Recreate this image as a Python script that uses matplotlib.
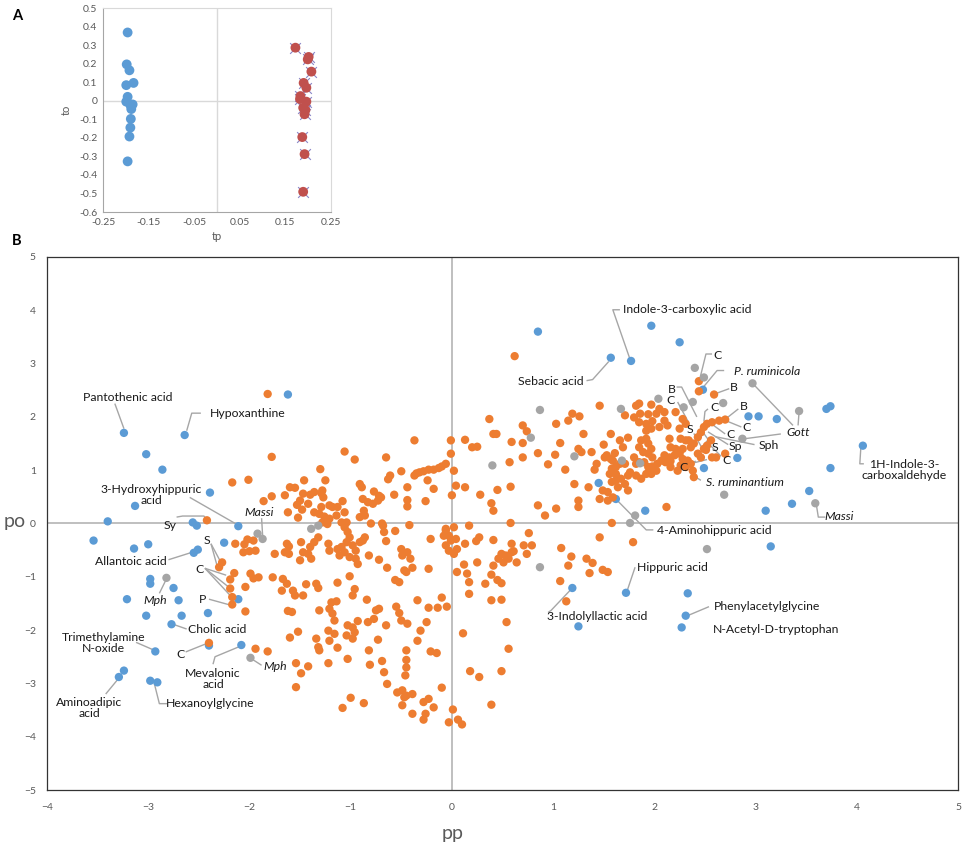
import matplotlib
matplotlib.use("Agg")
import matplotlib.pyplot as plt
import numpy as np

plt.rcParams['font.family'] = ['Lato', 'DejaVu Sans']

# ---------------- Panel A data (tp, to) ----------------
a_blue_tp = [-0.196, -0.198, -0.192, -0.183, -0.199, -0.196, -0.199, -0.190, -0.185, -0.188, -0.189, -0.190, -0.192, -0.196]
a_blue_to = [0.368, 0.196, 0.164, 0.096, 0.084, 0.021, -0.005, -0.023, -0.020, -0.045, -0.098, -0.145, -0.193, -0.327]
a_red_tp = [0.172, 0.201, 0.199, 0.207, 0.190, 0.196, 0.183, 0.182, 0.196, 0.189, 0.194, 0.192, 0.187, 0.192, 0.189]
a_red_to = [0.286, 0.236, 0.223, 0.157, 0.096, 0.070, 0.025, 0.009, -0.005, -0.038, -0.050, -0.073, -0.196, -0.288, -0.491]
a_xticks = [-0.25, -0.15, -0.05, 0.05, 0.15, 0.25]
a_yticks = [0.5, 0.4, 0.3, 0.2, 0.1, 0, -0.1, -0.2, -0.3, -0.4, -0.5, -0.6]

# ---------------- Panel B data (pp, po) ----------------
orange_pts = [
(-1.82,2.43),(-0.37,1.56),(-1.78,1.25),(-1.06,1.35),(-0.96,1.20),(-0.65,1.24),(-1.30,1.02),(-0.50,0.98),(-0.35,0.94),(-0.61,0.90),
(-0.37,0.90),(-0.32,0.96),(-0.28,0.98),(-0.23,1.01),(-0.18,1.01),(-0.13,1.04),(-0.10,1.07),(-0.06,1.12),(0.02,0.99),
(-0.01,1.56),(-0.01,1.31),(0.13,1.57),(0.20,1.43),(0.25,1.44),(0.37,1.96),(0.41,1.68),(0.44,1.68),
(-0.63,0.83),(-2.17,0.77),(-2.01,0.82),(-1.46,0.81),(-1.25,0.81),(-0.91,0.74),(-0.89,0.68),(-1.36,0.59),(-1.28,0.62),(-0.77,0.60),(-0.72,0.52),(-0.44,0.68),(-0.57,0.54),(-0.44,0.44),(-0.44,0.32),
(-1.60,0.68),(-1.55,0.67),(-1.78,0.51),(-1.86,0.42),(-1.65,0.53),(-1.47,0.56),(-1.40,0.54),(-1.29,0.57),(-1.27,0.49),(-1.50,0.43),(-1.42,0.37),(-1.21,0.34),(-1.18,0.31),(-1.13,0.31),(-1.08,0.42),(-0.88,0.46),(-0.83,0.40),(-0.78,0.37),(-0.73,0.43),(-0.70,0.49),(-0.26,0.42),(-0.18,0.65),(0.04,0.71),(0.00,0.53),(0.13,0.68),
(-0.24,0.81),(0.28,0.54),(0.45,0.63),(0.39,0.38),(0.41,0.24),
(-1.62,0.21),(-1.52,0.11),(-1.36,0.21),(-1.31,0.18),(-1.29,0.31),(-1.26,0.13),(-1.21,0.09),(-1.14,0.15),(-1.09,0.02),(-1.04,0.02),(-1.06,-0.07),(-1.03,-0.16),(-1.01,-0.26),(-1.04,-0.35),(-1.09,-0.44),(-1.06,-0.54),(-1.01,-0.63),(-0.95,-0.51),(-0.98,-0.41),(-0.91,-0.35),(-0.88,-0.32),(-0.95,-0.66),(-0.93,-0.76),(-1.11,-0.60),(-1.13,-0.48),(-1.22,-0.38),(-1.21,-0.51),(-1.32,-0.26),(-1.36,-0.35),(-1.40,-0.44),(-1.42,-0.57),(-1.39,-0.66),(-1.47,-0.54),(-1.50,-0.69),(-1.63,-0.38),(-1.65,-0.54),(-1.49,-0.35),(-1.75,-0.57),(-1.94,-0.51),(-1.96,-0.32),
(-1.28,0.02),(-1.23,-0.01),(-1.06,0.21),(-1.53,0.35),(-1.48,0.26),
(-0.91,0.12),(-0.86,0.15),(-0.80,0.0),(-0.87,0.24),(-0.86,-0.26),(-0.82,-0.60),(-0.68,-0.04),(-0.67,-0.16),(-0.56,-0.14),(-0.65,-0.33),(-0.50,-0.48),(-0.44,-0.54),(-0.49,-0.60),(-0.41,-0.66),(-0.72,-0.68),(-0.64,-0.83),(-0.47,-0.88),(-0.39,-0.83),(-0.21,-0.29),(-0.23,-0.85),(-0.42,-0.03),(-0.69,0.0),
(-0.06,-0.13),(-0.03,-0.23),(-0.01,-0.32),(-0.06,-0.41),(-0.03,-0.51),(0.02,-0.57),(0.05,-0.48),(0.04,-0.29),(0.05,-0.91),(0.15,-0.94),(-0.06,-0.10),(0.02,-0.07),(-0.08,-0.23),(0.13,-0.38),(0.27,-0.26),(0.24,-0.33),(0.41,-0.31),(0.49,-0.57),(0.46,-0.66),(0.17,-0.04),
(0.12,-0.77),(0.25,-0.73),
(-2.42,0.06),(-2.14,-0.38),(-2.05,-0.39),(-2.02,-0.30),(-2.00,-0.52),(-1.61,-0.43),(-1.61,-0.57),(-2.27,-0.73),(-2.30,-0.82),(-2.06,-0.54),(-0.45,-0.91),(-0.52,-1.10),
(-2.15,-0.93),(-2.19,-1.05),(-1.99,-0.94),(-1.96,-1.03),(-1.91,-1.01),(-2.04,-1.19),(-2.19,-1.22),(-2.17,-1.38),(-2.17,-1.52),(-2.04,-1.65),(-1.94,-2.35),(-1.82,-2.40),(-2.40,-2.24),
(-1.77,-1.01),(-1.67,-1.04),(-1.63,-1.13),(-1.68,-1.26),(-1.57,-1.26),(-1.55,-1.35),(-1.47,-1.35),(-1.44,-1.14),(-1.34,-1.13),(-1.32,-1.21),(-1.13,-1.11),(-1.01,-0.99),(-0.96,-1.23),(-0.98,-1.35),(-0.84,-1.43),(-1.19,-1.48),(-1.14,-1.46),(-1.21,-1.60),(-1.18,-1.69),(-1.16,-1.82),(-1.31,-1.63),(-1.62,-1.64),(-1.58,-1.66),(-1.52,-2.03),(-1.60,-2.14),(-1.34,-2.16),(-1.22,-2.01),(-1.16,-2.07),(-1.21,-2.20),(-1.32,-2.32),(-1.31,-2.38),(-1.13,-2.33),(-1.03,-1.91),(-0.98,-1.95),(-1.04,-2.10),(-0.96,-2.04),(-0.98,-2.16),(-0.93,-1.83),(-0.83,-1.85),(-0.77,-1.79),(-0.75,-1.63),(-0.72,-1.60),(-0.65,-1.91),(-0.73,-2.18),(-0.82,-2.38),(-1.03,-2.54),(-1.22,-2.62),(-1.54,-2.62),(-1.42,-2.68),(-1.49,-2.81),(-1.54,-3.07),(-0.81,-2.65),(-0.69,-2.58),(-0.67,-2.79),(-0.64,-3.01),(-1.00,-3.27),(-1.08,-3.46),(-0.87,-3.37),(-0.54,-3.17),(-0.49,-3.13),(-0.45,-3.23),(-0.39,-3.20),(-0.49,-3.41),(-0.39,-3.57),(-0.55,-1.56),(-0.52,-1.68),(-0.50,-1.82),(-0.44,-1.88),(-0.45,-2.38),(-0.45,-2.56),(-0.45,-2.70),(-0.46,-2.85),(-0.34,-1.44),(-0.34,-2.20),
(-0.56,-1.06),(-0.10,-1.39),(-0.05,-1.56),(-0.14,-1.58),(-0.23,-1.58),(-0.25,-1.85),(-0.31,-2.01),(-0.21,-2.40),(-0.15,-2.43),(-0.10,-3.08),(-0.47,-3.26),(-0.28,-3.35),(-0.23,-3.29),(-0.18,-3.45),(-0.26,-3.57),(-0.28,-3.68),
(0.17,-1.10),(0.17,-1.32),(0.33,-1.13),(0.39,-0.96),(0.45,-1.06),(0.49,-1.12),(0.41,-0.79),(0.53,-0.60),(0.51,-0.73),(0.56,-0.66),(0.64,-0.73),(0.59,-0.54),(0.74,-0.57),(0.39,-1.44),(0.49,-1.43),(0.54,-1.85),(0.56,-2.35),(0.11,-2.06),(0.18,-2.77),(0.27,-2.88),(0.49,-2.77),(0.39,-3.40),(0.01,-3.49),(-0.03,-3.73),(0.06,-3.68),(0.10,-3.77),
(0.62,3.14),(0.58,0.69),(0.70,1.84),(0.74,1.73),(1.46,2.21),(1.19,2.06),(1.26,2.01),(1.15,1.93),(1.03,1.87),(1.30,1.68),(1.57,1.68),(1.66,1.56),(1.74,1.61),(1.71,2.03),(1.80,1.99),(1.82,2.21),(0.59,1.53),(0.70,1.51),(1.07,1.51),(0.85,1.32),(0.70,1.24),(1.02,1.29),(1.25,1.40),(1.28,1.34),(1.38,1.34),(1.50,1.48),(1.53,1.28),(1.57,1.21),(1.61,1.32),(1.43,1.12),(1.41,1.01),(1.58,1.03),(1.62,1.06),(1.66,1.12),(1.56,0.93),(1.62,0.93),(1.76,0.96),(1.82,1.12),(0.57,1.15),(0.95,1.11),(1.12,1.01),(0.85,0.34),(0.92,0.15),(1.03,0.28),(1.25,0.43),(1.25,0.31),(1.21,0.74),(1.35,0.68),(1.46,0.46),(1.49,0.62),(1.54,0.43),(1.59,0.49),(1.64,0.68),(1.71,0.74),(1.74,0.62),(1.67,0.84),(0.58,0.01),(1.58,0.01),
(1.59,1.18),(1.51,1.24),(1.71,1.12),(1.62,0.81),(1.58,0.78),(1.54,0.59),(1.69,1.43),
(2.44,2.67),(2.44,2.48),(2.59,2.42),(2.21,2.09),(1.85,2.25),(1.97,2.23),(2.05,2.15),(2.10,2.09),(2.02,2.06),(1.94,2.05),(1.86,2.06),(1.85,1.90),(1.92,1.87),(1.98,1.92),(2.10,1.93),(2.13,1.84),(2.05,1.81),(1.97,1.78),(1.92,1.74),(2.28,1.96),(2.31,1.87),(2.25,1.78),(2.26,1.59),(2.31,1.56),(2.15,1.59),(2.16,1.43),(2.21,1.40),(2.28,1.40),(2.25,1.31),(2.20,1.28),(2.15,1.24),(2.10,1.28),(2.07,1.18),(2.11,1.15),(2.16,1.17),(2.03,1.12),(1.98,1.07),(1.94,1.06),(1.90,1.15),(1.97,0.93),(2.02,0.99),(1.87,1.56),(1.92,1.59),(1.94,1.50),(1.97,1.40),(1.89,1.34),(1.94,1.31),(1.85,1.43),(1.98,1.24),(1.80,1.24),(1.85,1.15),(1.82,0.90),(1.74,0.90),(1.87,0.84),(1.92,0.93),(2.12,0.31),(2.39,0.87),(2.43,1.31),(2.46,1.24),(2.51,1.38),(2.28,1.21),(2.33,1.18),(2.36,1.12),(2.31,1.06),(2.38,0.99),(2.26,1.09),(2.23,0.99),(2.16,1.06),(2.43,1.62),(2.46,1.71),(2.49,1.81),(2.52,1.87),(2.57,1.90),(2.64,1.93),(2.70,1.95),(2.34,1.56),(2.39,1.50),(2.36,1.43),(2.56,1.56),(2.52,1.46),(2.49,1.40),(2.57,1.24),(2.61,1.24),(2.70,1.31),
(0.59,-0.38),(0.61,-0.52),(0.76,-0.18),(0.71,-0.41),(0.79,-0.41),(1.08,-0.46),(1.18,-0.62),(1.46,-0.26),(1.79,-0.35),(1.15,-0.79),(1.07,-1.08),(1.13,-1.46),(1.33,-0.66),(1.39,-0.74),(1.36,-0.93),(1.49,-0.87),(1.54,-0.91),
]
blue_pts = [
(-1.62,2.42),(-3.24,1.70),(-2.64,1.66),(-3.02,1.30),(-2.86,1.01),(-2.39,0.58),(-3.13,0.33),(-3.40,0.04),(-2.56,0.02),(-2.52,-0.04),(-2.11,-0.05),(-3.54,-0.32),(-3.14,-0.47),(-3.00,-0.39),(-2.55,-0.55),(-2.51,-0.49),(-2.25,-0.36),(-2.98,-1.04),(-2.98,-1.13),(-2.75,-1.21),(-3.21,-1.42),(-2.70,-1.44),(-2.11,-1.42),(-2.41,-1.68),(-3.02,-1.73),(-2.67,-1.73),(-2.77,-1.89),(-2.93,-2.40),(-2.40,-2.29),(-2.08,-2.28),(-3.24,-2.76),(-3.29,-2.88),(-2.98,-2.95),(-2.91,-2.98),
(0.85,3.60),(1.97,3.71),(2.25,3.40),(1.57,3.11),(1.77,3.05),(2.48,2.51),(2.93,2.01),(3.03,2.01),(3.21,1.96),(3.70,2.15),(3.74,2.20),(4.06,1.46),(3.74,1.04),(2.82,1.23),(2.49,1.04),(3.53,0.61),(3.36,0.37),(3.10,0.24),(1.45,0.76),(1.62,0.46),(1.91,0.24),(3.15,-0.43),(1.72,-1.30),(1.19,-1.21),(1.25,-1.93),(2.33,-1.31),(2.31,-1.73),(2.27,-1.95),
]
gray_pts = [
(-2.82,-1.02),(-1.92,-0.19),(-1.87,-0.29),(-1.39,-0.10),(-1.32,-0.04),(-1.99,-2.52),(0.87,2.13),(0.78,1.61),(0.40,1.09),(1.21,1.26),(1.67,2.15),(1.68,1.18),(1.81,0.15),(1.76,0.01),(0.87,-0.82),(2.40,2.92),(2.49,2.74),(2.97,2.63),(3.43,2.11),(2.04,2.34),(2.29,2.18),(2.38,2.28),(2.68,2.26),(2.87,1.59),(1.86,1.13),(2.69,0.54),(3.59,0.38),(2.52,-0.48),
]
b_xticks = [-4, -3, -2, -1, 0, 1, 2, 3, 4, 5]
b_yticks = [-5, -4, -3, -2, -1, 0, 1, 2, 3, 4, 5]

# labels: text, anchor, italic, leader polylines (data coords)
labels = [
("Pantothenic acid", (-3.20, 2.36), False, [[(-3.33,2.25),(-3.24,1.78)]]),
("Hypoxanthine", (-2.02, 2.07), False, [[(-2.48,2.07),(-2.57,2.07),(-2.62,1.74)]]),
("3-Hydroxyhippuric\nacid", (-2.97, 0.53), False, [[(-2.59,0.49),(-2.14,0.0)]]),
("Sy", (-2.78, -0.04), False, [[(-2.72,0.12),(-2.66,0.14),(-2.45,0.14),(-2.42,0.08)]]),
("Massi", (-1.90, 0.20), True, [[(-1.88,0.10),(-1.87,-0.22)]]),
("S", (-2.42, -0.31), False, [[(-2.38,-0.38),(-2.29,-0.70)],[(-2.38,-0.38),(-2.32,-0.79)]]),
("Allantoic acid", (-3.17, -0.71), False, [[(-2.80,-0.68),(-2.55,-0.53)]]),
("C", (-2.49, -0.87), False, [[(-2.44,-0.84),(-2.23,-0.97)],[(-2.44,-0.84),(-2.20,-1.20)],[(-2.44,-0.84),(-2.19,-1.35)]]),
("Mph", (-2.93, -1.44), True, [[(-2.89,-1.31),(-2.82,-1.04)]]),
("P", (-2.46, -1.42), False, [[(-2.40,-1.42),(-2.19,-1.53)]]),
("Cholic acid", (-2.32, -1.98), False, [[(-2.62,-1.98),(-2.74,-1.90)]]),
("Trimethylamine\nN-oxide", (-3.44, -2.25), False, [[(-3.12,-2.23),(-2.95,-2.37)]]),
("C", (-2.68, -2.45), False, [[(-2.63,-2.41),(-2.42,-2.25)]]),
("Mevalonic\nacid", (-2.36, -2.91), False, [[(-2.36,-2.64),(-2.34,-2.50),(-2.10,-2.31)]]),
("Mph", (-1.75, -2.68), True, [[(-1.88,-2.66),(-1.97,-2.55)]]),
("Aminoadipic\nacid", (-3.58, -3.47), False, [[(-3.42,-3.20),(-3.29,-2.90)]]),
("Hexanoylglycine", (-2.39, -3.38), False, [[(-2.81,-3.38),(-2.89,-3.38),(-2.94,-3.00)]]),
("Indole-3-carboxylic acid", (2.33, 4.01), False, [[(1.66,4.01),(1.59,4.01),(1.76,3.08)]]),
("Sebacic acid", (0.98, 2.66), False, [[(1.33,2.68),(1.39,2.70),(1.55,3.04)]]),
("C", (2.62, 3.15), False, [[(2.57,3.18),(2.51,3.18),(2.45,2.72)]]),
("P. ruminicola", (3.11, 2.86), True, [[(2.69,2.87),(2.62,2.87),(2.48,2.55)]]),
("B", (2.79, 2.55), False, [[(2.74,2.53),(2.61,2.44)]]),
("B", (2.17, 2.51), False, [[(2.22,2.56),(2.27,2.56),(2.42,2.00)]]),
("C", (2.16, 2.31), False, [[(2.23,2.28),(2.34,1.89)]]),
("C", (2.59, 2.17), False, [[(2.53,2.15),(2.50,2.10),(2.49,1.92)]]),
("B", (2.88, 2.20), False, [[(2.83,2.15),(2.71,1.97)]]),
("S", (2.35, 1.76), False, [[(2.39,1.69),(2.47,1.42)]]),
("C", (2.91, 1.80), False, [[(2.86,1.81),(2.68,1.95)]]),
("C", (2.75, 1.67), False, [[(2.70,1.68),(2.55,1.89)]]),
("Gott", (3.42, 1.71), True, [[(3.37,1.84),(2.97,2.63)],[(3.42,1.84),(3.43,2.10)],[(3.25,1.68),(2.89,1.59)]]),
("Sph", (3.13, 1.46), False, [[(2.99,1.48),(2.60,1.63)]]),
("Sp", (2.80, 1.45), False, [[(2.73,1.48),(2.53,1.72)]]),
("S", (2.60, 1.43), False, [[(2.56,1.50),(2.47,1.74)]]),
("C", (2.71, 1.19), False, [[(2.66,1.26),(2.51,1.55)]]),
("C", (2.29, 1.06), False, [[(2.33,1.11),(2.35,1.19)],[(2.33,1.11),(2.41,1.17)],[(2.33,1.11),(2.52,1.20)]]),
("S. ruminantium", (2.90, 0.76), True, [[(2.46,0.81),(2.40,0.88)]]),
("1H-Indole-3-\ncarboxaldehyde", (4.47, 1.01), False, [[(4.07,1.12),(4.03,1.12),(4.04,1.42)]]),
("Massi", (3.83, 0.13), True, [[(3.69,0.12),(3.62,0.12),(3.60,0.36)]]),
("4-Aminohippuric acid", (2.59, -0.14), False, [[(1.99,-0.12),(1.92,-0.12),(1.63,0.44)]]),
("Hippuric acid", (2.18, -0.83), False, [[(1.81,-0.82),(1.73,-1.27)]]),
("3-Indolyllactic acid", (1.44, -1.74), False, [[(0.95,-1.67),(0.98,-1.63),(1.18,-1.23)]]),
("Phenylacetylglycine", (3.11, -1.56), False, [[(2.54,-1.56),(2.34,-1.72)]]),
("N-Acetyl-D-tryptophan", (3.20, -1.99), False, []),
]

ORANGE = '#ED7D31'
BLUE = '#5B9BD5'
GRAY = '#A5A5A5'
RED = '#C0504D'
TICKC = '#595959'

W, H = 964, 849
fig = plt.figure(figsize=(W/100, H/100), dpi=100)

# ---------------- Panel A ----------------
axA = fig.add_axes([103/W, 1-212/H, 228/W, 204/H])
axA.set_xlim(-0.25, 0.25)
axA.set_ylim(-0.6, 0.5)
axA.axhline(0, color='#d9d9d9', lw=1.0, zorder=0)
axA.axvline(0, color='#d9d9d9', lw=1.0, zorder=0)
axA.scatter(a_blue_tp, a_blue_to, s=50, color=BLUE, edgecolors='none', zorder=3)
axA.scatter(a_red_tp, a_red_to, s=60, marker='x', color='#8a86c8', linewidths=0.8, zorder=3)
axA.scatter(a_red_tp, a_red_to, s=50, color=RED, edgecolors='none', zorder=4)
axA.set_xticks(a_xticks)
axA.set_xticklabels(['-0.25', '-0.15', '-0.05', '0.05', '0.15', '0.25'])
axA.set_yticks(a_yticks)
axA.set_yticklabels(['0.5', '0.4', '0.3', '0.2', '0.1', '0', '-0.1', '-0.2', '-0.3', '-0.4', '-0.5', '-0.6'])
axA.tick_params(length=0, labelsize=7.5, colors=TICKC, pad=4)
for sp in axA.spines.values():
    sp.set_color('#d9d9d9')
    sp.set_linewidth(0.8)
axA.spines['left'].set_color('#a6a6a6')
axA.spines['bottom'].set_color('#a6a6a6')
axA.set_xlabel('tp', fontsize=8, color=TICKC, labelpad=3)
axA.set_ylabel('to', fontsize=8, color=TICKC, labelpad=5)
fig.text(12/W, 1-16/H, 'A', fontsize=10.5, fontweight='bold', va='center', ha='left')

# ---------------- Panel B ----------------
axB = fig.add_axes([47/W, 1-790/H, 911/W, 533/H])
axB.set_xlim(-4, 5)
axB.set_ylim(-5, 5)
axB.axhline(0, color='#bfbfbf', lw=1.4, zorder=0)
axB.axvline(0, color='#bfbfbf', lw=1.4, zorder=0)

for text, (tx, ty), ital, paths in labels:
    for p in paths:
        xs = [q[0] for q in p]
        ys = [q[1] for q in p]
        axB.plot(xs, ys, color='#a6a6a6', lw=1.0, zorder=1, solid_capstyle='butt')

bx = [p[0] for p in blue_pts]; by = [p[1] for p in blue_pts]
ox = [p[0] for p in orange_pts]; oy = [p[1] for p in orange_pts]
gx = [p[0] for p in gray_pts]; gy = [p[1] for p in gray_pts]
axB.scatter(bx, by, s=36, color=BLUE, edgecolors='none', zorder=2)
axB.scatter(ox, oy, s=36, color=ORANGE, edgecolors='none', zorder=3)
axB.scatter(gx, gy, s=36, color=GRAY, edgecolors='none', zorder=4)

for text, (tx, ty), ital, paths in labels:
    axB.text(tx, ty, text, fontsize=8.8, ha='center', va='center', color='#1a1a1a',
             style='italic' if ital else 'normal', linespacing=1.0, zorder=5)

axB.set_xticks(b_xticks)
axB.set_yticks(b_yticks)
axB.tick_params(axis='x', length=0, labelsize=7.5, colors=TICKC, pad=9)
axB.tick_params(axis='y', length=0, labelsize=7.5, colors=TICKC, pad=8)
for sp in axB.spines.values():
    sp.set_color('#333333')
    sp.set_linewidth(0.9)
fig.text(453/W, 1-833/H, 'pp', fontsize=14, color=TICKC, ha='center', va='center')
fig.text(15/W, 1-522/H, 'po', fontsize=14, color=TICKC, ha='center', va='center')
fig.text(12/W, 1-241/H, 'B', fontsize=10.5, fontweight='bold', va='center', ha='left')

fig.savefig('out.png', dpi=100)
